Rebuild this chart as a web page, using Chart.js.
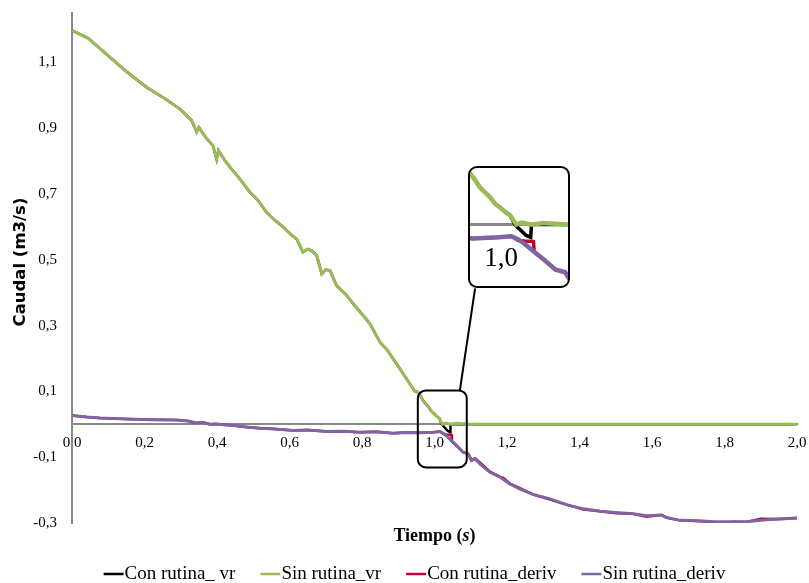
<!DOCTYPE html>
<html>
<head>
<meta charset="utf-8">
<script src="https://cdn.jsdelivr.net/npm/chart.js@4.4.0/dist/chart.umd.min.js"></script>
<style>
  html, body { margin: 0; padding: 0; background: #fff; }
  #wrap { position: relative; width: 809px; height: 583px; }
  #zoom { position: absolute; box-sizing: border-box; border: 2px solid #000; border-radius: 9px; overflow: hidden; background: #fff; display: none; }
  #zoom canvas { display: block; }
</style>
</head>
<body>
<div id="wrap">
  <canvas id="chart" width="809" height="583"></canvas>
  <div id="zoom"><canvas id="inset"></canvas></div>
</div>
<script>
// tiempo (s) / caudal (m3/s)
const tSinVr = [0.000,0.045,0.105,0.150,0.206,0.260,0.298,0.330,0.344,0.350,0.370,0.389,0.399,0.404,0.420,0.436,0.460,0.491,0.505,0.512,0.537,0.560,0.583,0.605,0.620,0.637,0.650,0.661,0.675,0.689,0.700,0.712,0.730,0.755,0.776,0.800,0.822,0.850,0.870,0.886,0.905,0.923,0.946,0.955,0.962,0.969,0.976,0.984,0.991,0.998,1.006,1.013,1.018,1.022,1.030,1.045,1.060,1.100,1.400,1.700,2.000];
const qSinVr = [1.197,1.173,1.115,1.072,1.024,0.987,0.958,0.923,0.888,0.902,0.870,0.847,0.806,0.832,0.805,0.781,0.750,0.705,0.690,0.682,0.644,0.620,0.599,0.575,0.563,0.523,0.532,0.528,0.513,0.457,0.470,0.467,0.421,0.395,0.366,0.335,0.305,0.249,0.225,0.199,0.168,0.138,0.100,0.097,0.085,0.071,0.062,0.052,0.040,0.033,0.024,0.018,0.008,0.000,0.004,0.000,0.003,0.000,0.000,0.000,0.000];

const tConVr = [0.000,0.045,0.105,0.150,0.206,0.260,0.298,0.330,0.344,0.350,0.370,0.389,0.399,0.404,0.420,0.436,0.460,0.491,0.505,0.512,0.537,0.560,0.583,0.605,0.620,0.637,0.650,0.661,0.675,0.689,0.700,0.712,0.730,0.755,0.776,0.800,0.822,0.850,0.870,0.886,0.905,0.923,0.946,0.955,0.962,0.969,0.976,0.984,0.991,0.998,1.006,1.013,1.020,1.036,1.043,1.044,1.100,2.000];
const qConVr = [1.197,1.173,1.115,1.072,1.024,0.987,0.958,0.923,0.888,0.902,0.870,0.847,0.806,0.832,0.805,0.781,0.750,0.705,0.690,0.682,0.644,0.620,0.599,0.575,0.563,0.523,0.532,0.528,0.513,0.457,0.470,0.467,0.421,0.395,0.366,0.335,0.305,0.249,0.225,0.199,0.168,0.138,0.100,0.097,0.085,0.071,0.062,0.052,0.040,0.033,0.024,0.018,0.000,-0.020,-0.024,0.000,0.000,0.000];

const tSinDeriv = [0.000,0.040,0.077,0.150,0.220,0.289,0.320,0.344,0.360,0.380,0.399,0.427,0.445,0.480,0.519,0.560,0.611,0.650,0.703,0.750,0.794,0.840,0.886,0.920,0.960,0.997,1.015,1.025,1.034,1.043,1.061,1.079,1.093,1.102,1.112,1.126,1.153,1.181,1.208,1.236,1.272,1.319,1.365,1.411,1.457,1.500,1.548,1.585,1.627,1.640,1.677,1.732,1.769,1.824,1.861,1.916,1.953,2.000];
const qSinDeriv = [0.027,0.022,0.019,0.016,0.014,0.013,0.010,0.004,0.006,0.000,0.001,-0.002,-0.004,-0.008,-0.012,-0.014,-0.019,-0.017,-0.022,-0.021,-0.024,-0.023,-0.027,-0.025,-0.026,-0.024,-0.022,-0.028,-0.036,-0.046,-0.065,-0.085,-0.090,-0.110,-0.105,-0.121,-0.146,-0.161,-0.181,-0.197,-0.213,-0.227,-0.245,-0.257,-0.264,-0.268,-0.272,-0.278,-0.276,-0.283,-0.292,-0.293,-0.296,-0.296,-0.296,-0.290,-0.288,-0.285];

const tConDeriv = [0.000,0.040,0.077,0.150,0.220,0.289,0.320,0.344,0.360,0.380,0.399,0.427,0.445,0.480,0.519,0.560,0.611,0.650,0.703,0.750,0.794,0.840,0.886,0.920,0.960,0.997,1.015,1.025,1.034,1.047,1.048,1.061,1.079,1.093,1.102,1.112,1.126,1.153,1.181,1.190,1.208,1.236,1.272,1.319,1.365,1.411,1.457,1.500,1.548,1.585,1.627,1.640,1.677,1.732,1.769,1.800,1.824,1.861,1.900,1.953,2.000];
const qConDeriv = [0.027,0.022,0.019,0.016,0.014,0.013,0.010,0.004,0.006,0.000,0.001,-0.002,-0.004,-0.008,-0.012,-0.014,-0.019,-0.017,-0.022,-0.021,-0.024,-0.023,-0.027,-0.025,-0.026,-0.024,-0.022,-0.030,-0.031,-0.032,-0.052,-0.065,-0.085,-0.090,-0.108,-0.103,-0.117,-0.144,-0.160,-0.163,-0.180,-0.194,-0.214,-0.229,-0.244,-0.259,-0.264,-0.270,-0.272,-0.281,-0.276,-0.284,-0.292,-0.295,-0.297,-0.299,-0.296,-0.297,-0.287,-0.288,-0.285];

const seriesNames = ['Con rutina_ vr', 'Sin rutina_vr', 'Con rutina_deriv', 'Sin rutina_deriv'];
const xTicks = [0.0, 0.2, 0.4, 0.6, 0.8, 1.0, 1.2, 1.4, 1.6, 1.8, 2.0];
const yTicks = [-0.3, -0.1, 0.1, 0.3, 0.5, 0.7, 0.9, 1.1];
const insetTicks = [1.0];

const colors = ['#000000', '#9bbb59', '#c00030', '#8064a2'];
const fmt = v => Number(v).toFixed(1).replace('.', ',');
const pts = (t, q) => t.map((x, i) => ({x: x, y: q[i]}));

function makeSets(widths) {
  const src = [[tConVr, qConVr], [tSinVr, qSinVr], [tConDeriv, qConDeriv], [tSinDeriv, qSinDeriv]];
  return src.map((s, i) => ({
    label: seriesNames[i],
    data: pts(s[0], s[1]),
    borderColor: colors[i],
    backgroundColor: colors[i],
    borderWidth: widths[i],
    pointRadius: 0,
    tension: 0,
    fill: false,
    order: 4 - i   // purple drawn last, like the original
  }));
}

function roundRect(ctx, x, y, w, h, r) {
  ctx.beginPath();
  ctx.moveTo(x + r, y);
  ctx.arcTo(x + w, y, x + w, y + h, r);
  ctx.arcTo(x + w, y + h, x, y + h, r);
  ctx.arcTo(x, y + h, x, y, r);
  ctx.arcTo(x, y, x + w, y, r);
  ctx.closePath();
}

let insetChart = null;

const decor = {
  id: 'decor',
  afterDraw(chart) {
    const {ctx, chartArea, scales: {x, y}} = chart;
    ctx.save();

    // caja de la zona ampliada y linea hacia el detalle
    const bx0 = x.getPixelForValue(0.954), bx1 = x.getPixelForValue(1.089);
    const by0 = y.getPixelForValue(0.103), by1 = y.getPixelForValue(-0.131);
    ctx.strokeStyle = '#000';
    ctx.lineWidth = 2;
    roundRect(ctx, bx0, by0, bx1 - bx0, by1 - by0, 8);
    ctx.stroke();

    const ix0 = x.getPixelForValue(1.092), ix1 = x.getPixelForValue(1.374);
    const iy0 = y.getPixelForValue(0.784), iy1 = y.getPixelForValue(0.413);
    ctx.beginPath();
    ctx.moveTo(x.getPixelForValue(1.070), by0);
    ctx.lineTo(x.getPixelForValue(1.112), iy1);
    ctx.stroke();

    // titulos de ejes
    ctx.fillStyle = '#000';
    ctx.textBaseline = 'middle';
    const cx = (chartArea.left + chartArea.right) / 2;
    const ty = 536;
    const p1 = 'Tiempo (', p2 = 's', p3 = ')';
    ctx.font = 'bold 18px "Liberation Serif"';
    const w1 = ctx.measureText(p1).width, w3 = ctx.measureText(p3).width;
    ctx.font = 'bold italic 18px "Liberation Serif"';
    const w2 = ctx.measureText(p2).width;
    let tx = cx - (w1 + w2 + w3) / 2;
    ctx.textAlign = 'left';
    ctx.font = 'bold 18px "Liberation Serif"';
    ctx.fillText(p1, tx, ty);
    ctx.font = 'bold italic 18px "Liberation Serif"';
    ctx.fillText(p2, tx + w1, ty);
    ctx.font = 'bold 18px "Liberation Serif"';
    ctx.fillText(p3, tx + w1 + w2, ty);

    ctx.save();
    ctx.translate(21, 262);
    ctx.rotate(-Math.PI / 2);
    ctx.textAlign = 'center';
    ctx.font = 'bold 16.5px "DejaVu Sans"';
    ctx.fillText('Caudal (m3/s)', 0, 0);
    ctx.restore();

    // leyenda
    ctx.font = '19px "Liberation Serif"';
    const items = chart.data.datasets.map(d => ({label: d.label, color: d.borderColor, w: 22 + ctx.measureText(d.label).width}));
    const gap = 24;
    const total = items.reduce((a, it) => a + it.w, 0) + gap * (items.length - 1);
    let lx = 415 - total / 2;
    const ly = 574;
    items.forEach(it => {
      ctx.strokeStyle = it.color;
      ctx.lineWidth = 2.5;
      ctx.beginPath();
      ctx.moveTo(lx, ly);
      ctx.lineTo(lx + 20, ly);
      ctx.stroke();
      ctx.fillStyle = '#000';
      ctx.textAlign = 'left';
      ctx.fillText(it.label, lx + 21, ly);
      lx += it.w + gap;
    });
    ctx.restore();

    if (!insetChart) buildInset(ix0, iy0, ix1 - ix0, iy1 - iy0);
  }
};

const chart = new Chart(document.getElementById('chart'), {
  type: 'line',
  data: {datasets: makeSets([2.5, 3, 2.5, 3])},
  options: {
    responsive: false,
    animation: false,
    events: [],
    layout: {padding: {left: 0, right: 12, top: 13, bottom: 60}},
    plugins: {legend: {display: false}, tooltip: {enabled: false}},
    scales: {
      x: {
        type: 'linear', min: 0, max: 2, position: {y: 0},
        afterBuildTicks: s => { s.ticks = xTicks.map(v => ({value: v})); },
        afterFit: s => { s.paddingLeft = 0; s.paddingRight = 0; },
        grid: {display: false, drawTicks: false},
        border: {display: true, color: '#898989', width: 2},
        ticks: {padding: 10, color: '#000', maxRotation: 0, autoSkip: false,
                font: {family: 'Liberation Serif', size: 15}, callback: v => fmt(v)}
      },
      y: {
        type: 'linear', min: -0.3, max: 1.25,
        afterBuildTicks: s => { s.ticks = yTicks.map(v => ({value: v})); },
        afterFit: s => { s.width = 72; s.paddingTop = 0; s.paddingBottom = 0; },
        grid: {display: false, drawTicks: false},
        border: {display: true, color: '#898989', width: 2},
        ticks: {padding: 15, color: '#000', font: {family: 'Liberation Serif', size: 15}, callback: v => fmt(v)}
      }
    }
  },
  plugins: [decor]
});

function buildInset(left, top, w, h) {
  const box = document.getElementById('zoom');
  box.style.left = left + 'px';
  box.style.top = top + 'px';
  box.style.width = w + 'px';
  box.style.height = h + 'px';
  box.style.display = 'block';
  const cv = document.getElementById('inset');
  cv.width = Math.round(w - 4);
  cv.height = Math.round(h - 4);
  insetChart = new Chart(cv, {
    type: 'line',
    data: {datasets: makeSets([3.5, 4.5, 3.5, 4.5])},
    options: {
      responsive: false,
      animation: false,
      events: [],
      layout: {padding: 0},
      plugins: {legend: {display: false}, tooltip: {enabled: false}},
      scales: {
        x: {
          type: 'linear', min: 0.955, max: 1.097, position: {y: 0},
          afterBuildTicks: s => { s.ticks = insetTicks.map(v => ({value: v})); },
          afterFit: s => { s.paddingLeft = 0; s.paddingRight = 0; },
          grid: {display: false, drawTicks: false},
          border: {display: true, color: '#898989', width: 3},
          ticks: {padding: 18, color: '#000', maxRotation: 0, autoSkip: false,
                  font: {family: 'Liberation Serif', size: 27}, callback: v => fmt(v)}
        },
        y: {type: 'linear', min: -0.116, max: 0.107, display: false,
            afterFit: s => { s.paddingTop = 0; s.paddingBottom = 0; }}
      }
    }
  });
}
</script>
</body>
</html>
